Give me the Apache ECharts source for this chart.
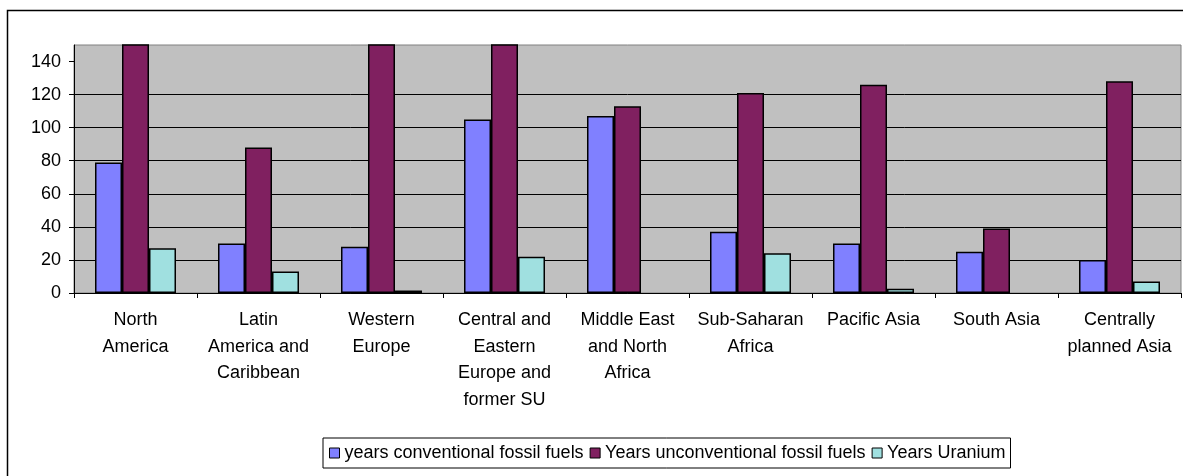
<!DOCTYPE html>
<html lang="en">
<head>
<meta charset="UTF-8">
<title>Years of energy reserves by region</title>
<script src="https://cdn.jsdelivr.net/npm/echarts@6/dist/echarts.min.js"></script>
<style>
  html, body { margin: 0; padding: 0; background: #fff; }
  #chart { width: 1183px; height: 476px; }
</style>
</head>
<body>
<div id="chart"></div>
<script>
// regions (x axis), line breaks as in the original
var regions = [
  'North\nAmerica',
  'Latin\nAmerica and\nCaribbean',
  'Western\nEurope',
  'Central and\nEastern\nEurope and\nformer SU',
  'Middle East\nand North\nAfrica',
  'Sub-Saharan\nAfrica',
  'Pacific Asia',
  'South Asia',
  'Centrally\nplanned Asia'
];
var seriesNames = [
  'years conventional fossil fuels',
  'Years unconventional fossil fuels',
  'Years Uranium'
];
// values (bars above 150 are cut off by the axis)
var conventional   = [79, 30, 28, 105, 107, 37, 30, 25, 20];
var unconventional = [200, 88, 230, 260, 113, 121, 126, 39, 128];
var uranium        = [27, 13, 1.5, 22, null, 24, 2.5, null, 7];
var yTicks = [0, 20, 40, 60, 80, 100, 120, 140];

var colors = ['#8080ff', '#802060', '#a0e0e0'];
var font = '"Liberation Sans", Arial, sans-serif';

var chart = echarts.init(document.getElementById('chart'));

function barSeries(i, data) {
  return {
    name: seriesNames[i],
    type: 'bar',
    data: data,
    barWidth: 27,
    barGap: '0%',
    clip: true,
    itemStyle: { color: colors[i], borderColor: '#000', borderWidth: 1.5 },
    emphasis: { disabled: true }
  };
}

chart.setOption({
  animation: false,
  backgroundColor: '#fff',
  textStyle: { fontFamily: font },
  graphic: [{
    type: 'rect',
    shape: { x: 7.5, y: 10.5, width: 1300, height: 600 },
    style: { fill: 'none', stroke: '#000', lineWidth: 1.5 },
    silent: true
  }],
  grid: {
    left: 74, right: 2, top: 45, bottom: 183,
    show: true,
    backgroundColor: '#c0c0c0',
    borderColor: '#808080',
    borderWidth: 1
  },
  legend: {
    left: 323, top: 438,
    padding: [6, 5, 6, 6],
    borderColor: '#000',
    borderWidth: 1,
    itemWidth: 10, itemHeight: 10, itemGap: 6,
    icon: 'rect',
    textStyle: { fontFamily: font, fontSize: 18, color: '#000', padding: [0, 0, 0, 0] },
    itemStyle: { borderColor: '#000', borderWidth: 1 },
    data: seriesNames
  },
  xAxis: {
    type: 'category',
    data: regions,
    axisLine: { lineStyle: { color: '#000', width: 1 } },
    axisTick: { show: true, length: 5, lineStyle: { color: '#000' } },
    axisLabel: {
      interval: 0, margin: 14, color: '#000',
      fontFamily: font, fontSize: 18, lineHeight: 26.5, align: 'center'
    },
    splitLine: { show: false }
  },
  yAxis: {
    type: 'value',
    min: 0, max: 150, interval: 20,
    axisLine: { show: true, lineStyle: { color: '#000', width: 1 } },
    axisTick: { show: true, length: 5, lineStyle: { color: '#000' }, customValues: yTicks },
    axisLabel: { margin: 13, color: '#000', fontFamily: font, fontSize: 18, customValues: yTicks },
    splitLine: { show: true, showMaxLine: false, lineStyle: { color: '#000', width: 1 } }
  },
  series: [
    barSeries(0, conventional),
    barSeries(1, unconventional),
    barSeries(2, uranium)
  ]
});
</script>
</body>
</html>
